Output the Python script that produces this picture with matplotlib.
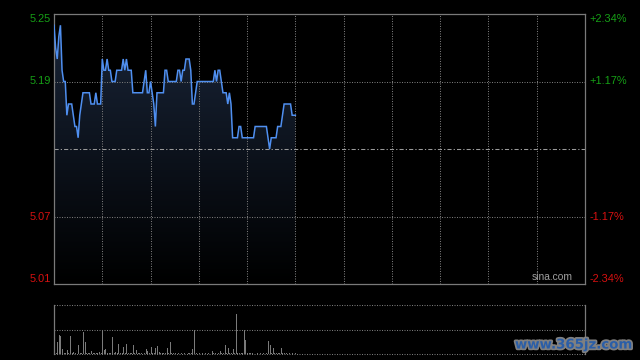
import numpy as np
import matplotlib
matplotlib.use("Agg")
import matplotlib.pyplot as plt
import matplotlib.patheffects as pe
from matplotlib.transforms import blended_transform_factory

# ---------------- data ----------------
prev_close = 5.13
prices = [
    5.24, 5.22, 5.21, 5.23, 5.24, 5.20, 5.19, 5.19, 5.16, 5.17,   # 0-9
    5.17, 5.17, 5.16, 5.15, 5.15, 5.14, 5.16, 5.17, 5.18, 5.18,   # 10-19
    5.18, 5.18, 5.18, 5.17, 5.17, 5.17, 5.18, 5.17, 5.17, 5.17,   # 20-29
    5.21, 5.20, 5.20, 5.21, 5.20, 5.20, 5.19, 5.19, 5.19, 5.20,   # 30-39
    5.20, 5.20, 5.20, 5.21, 5.20, 5.21, 5.20, 5.20, 5.20, 5.18,   # 40-49
    5.18, 5.18, 5.18, 5.18, 5.18, 5.18, 5.19, 5.20, 5.18, 5.18,   # 50-59
    5.19, 5.18, 5.17, 5.15, 5.18, 5.18, 5.18, 5.18, 5.18, 5.20,   # 60-69
    5.20, 5.19, 5.19, 5.19, 5.19, 5.19, 5.19, 5.20, 5.20, 5.19,   # 70-79
    5.20, 5.20, 5.21, 5.21, 5.21, 5.20, 5.17, 5.17, 5.18, 5.19,   # 80-89
    5.19, 5.19, 5.19, 5.19, 5.19, 5.19, 5.19, 5.19, 5.19, 5.19,   # 90-99
    5.20, 5.19, 5.20, 5.20, 5.19, 5.18, 5.18, 5.18, 5.17, 5.18,   # 100-109
    5.17, 5.14, 5.14, 5.14, 5.14, 5.15, 5.15, 5.14, 5.14, 5.14,   # 110-119
    5.14, 5.14, 5.14, 5.14, 5.14, 5.15, 5.15, 5.15, 5.15, 5.15,   # 120-129
    5.15, 5.15, 5.15, 5.14, 5.13, 5.14, 5.14, 5.14, 5.14, 5.15,   # 130-139
    5.15, 5.15, 5.16, 5.17, 5.17, 5.17, 5.17, 5.17, 5.16, 5.16,   # 140-149
    5.16,                                                           # 150
]
volumes = [
    100, 3, 25, 39, 37, 10, 3, 2, 9, 2,
    36, 2, 5, 2, 15, 19, 2, 3, 44, 25,
    3, 3, 2, 7, 2, 2, 3, 2, 5, 2,
    46, 9, 11, 2, 3, 2, 34, 2, 5, 2,
    21, 2, 2, 15, 3, 21, 2, 2, 2, 19,
    2, 9, 2, 3, 2, 19, 2, 11, 7, 2,
    15, 3, 2, 13, 17, 5, 2, 2, 2, 2,
    13, 2, 25, 2, 3, 2, 1, 2, 1, 2,
    1, 2, 1, 3, 2, 2, 11, 49, 2, 1,
    2, 1, 2, 1, 2, 1, 2, 1, 7, 2,
    2, 11, 2, 7, 2, 2, 19, 2, 12, 2,
    2, 11, 2, 81, 2, 2, 2, 3, 49, 29,
    2, 2, 2, 3, 2, 1, 2, 1, 2, 1,
    2, 1, 2, 27, 19, 2, 13, 2, 2, 2,
    2, 13, 2, 3, 2, 1, 2, 1, 2, 1,
    2,
]
total_minutes = 330           # HK session: 9:30-12:00 + 13:00-16:00
grid_minutes = list(range(30, 330, 30))
left_labels = ["5.25", "5.19", "5.07", "5.01"]
left_values = [5.25, 5.19, 5.07, 5.01]
right_labels = ["+2.34%", "+1.17%", "-1.17%", "-2.34%"]
label_colors = ["#16a016", "#16a016", "#d81010", "#d81010"]
vol_max = 100

# ---------------- figure ----------------
W, H = 640, 360
fig = plt.figure(figsize=(W / 100, H / 100), dpi=100, facecolor="black")
FONT = "Liberation Sans"
DOT = (0, (1.0, 1.4))

ax = fig.add_axes([54 / W, 1 - 284 / H, 531 / W, 270 / H])
ax.set_facecolor("black")
ax.set_xlim(0, total_minutes)
ax.set_ylim(5.01, 5.25)

t = np.arange(len(prices))
p = np.array(prices)

# gradient fill under the line
fill = ax.fill_between(t, p, 5.01, facecolor="none", edgecolor="none")
grad = np.linspace(1, 0, 256).reshape(-1, 1)
top_col = np.array([0x1a, 0x26, 0x3a]) / 255
bot_col = np.array([0x00, 0x00, 0x00]) / 255
img = top_col[None, None, :] * grad[:, :, None] + bot_col[None, None, :] * (1 - grad[:, :, None])
im = ax.imshow(img, extent=[0, total_minutes, 5.01, 5.25], aspect="auto",
               origin="upper", zorder=1)
path = fill.get_paths()[0]
im.set_clip_path(path, transform=ax.transData)

# grid
grid_col = "#787878"
for gm in grid_minutes:
    ax.axvline(gm, color=grid_col, lw=0.75, ls=DOT, zorder=2)
for yv in [5.19, 5.07]:
    ax.axhline(yv, color=grid_col, lw=0.75, ls=DOT, zorder=2)
ax.axhline(prev_close, color="#9a9a9a", lw=0.75, ls=(0, (4, 2, 1.2, 2)), zorder=2)

ax.plot(t, p, color="#4f8ff0", lw=1.1, zorder=3, solid_joinstyle="miter")

for s in ax.spines.values():
    s.set_color("#7a7a7a")
    s.set_linewidth(0.9)
ax.set_xticks([])
ax.set_yticks([])

# axis labels
tr_l = blended_transform_factory(ax.transAxes, ax.transData)
vas = ["top", "center", "center", "bottom"]
for lab, val, col, va, rlab in zip(left_labels, left_values, label_colors, vas, right_labels):
    ax.text(-0.006, val, lab, transform=tr_l, ha="right", va=va, color=col,
            fontsize=7.9, family=FONT)
    ax.text(1.009, val, rlab, transform=tr_l, ha="left", va=va, color=col,
            fontsize=7.9, family=FONT)

ax.text(0.976, 0.008, "sina.com", transform=ax.transAxes, ha="right", va="bottom",
        color="#a0a0a0", fontsize=7.4, family=FONT)

# ---------------- volume panel ----------------
vx = fig.add_axes([54 / W, 1 - 354.3 / H, 531 / W, 49.6 / H])
vx.set_facecolor("black")
vx.set_xlim(0, total_minutes)
vx.set_ylim(0, vol_max)
vx.bar(np.arange(len(volumes)), volumes, width=0.6, color="#7a7a7a", align="edge",
       zorder=3, linewidth=0)
for yv in [vol_max, vol_max / 2, 0]:
    vx.axhline(yv, color=grid_col, lw=0.75, ls=DOT, zorder=2, clip_on=False)
for side in ["top", "bottom"]:
    vx.spines[side].set_visible(False)
for side in ["left", "right"]:
    vx.spines[side].set_color("#7a7a7a")
    vx.spines[side].set_linewidth(0.9)
vx.set_xticks([])
vx.set_yticks([])

# watermark
fig.text(574 / W, 1 - 345 / H, "www.365jz.com", ha="center", va="center",
         color="#2a5ea8", fontsize=9.6, fontweight="bold", family="DejaVu Sans",
         path_effects=[pe.withStroke(linewidth=2.5, foreground="#808080")], zorder=10)

fig.savefig("out.png", dpi=100, facecolor="black")
